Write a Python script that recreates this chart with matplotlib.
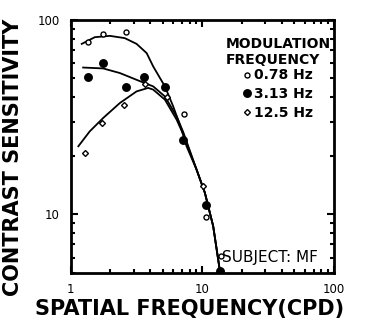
import numpy as np
import matplotlib
matplotlib.use("Agg")
from matplotlib import pyplot as plt

plt.rcParams['font.family'] = ['DejaVu Sans']

# --- measured points (spatial freq in cpd, contrast sensitivity) ---
f_078 = [1.34, 1.76, 2.61, 7.27, 10.6, 13.8]
s_078 = [77, 85, 87, 33, 9.7, 6.1]

f_313 = [1.34, 1.76, 2.61, 3.59, 5.19, 7.15, 10.6, 13.6]
s_313 = [51, 60, 45, 51, 45, 24.2, 11.2, 5.1]

f_125 = [1.29, 1.71, 2.52, 3.65, 5.34, 10.1]
s_125 = [20.6, 29.5, 36.6, 47, 40.2, 14.0]

# --- fitted curves ---
cf_078 = [1.21, 1.52, 1.98, 2.57, 3.16, 3.77, 4.23, 5.19, 6.0, 6.95, 7.58, 9.03, 10.45, 12.08, 13.6]
cs_078 = [75.3, 81.5, 82.8, 80.6, 75.3, 67.5, 57.6, 45.5, 35.9, 27.3, 22.4, 17.0, 12.9, 8.7, 5.1]

cf_313 = [1.24, 1.76, 2.36, 3.16, 4.23, 5.19, 6.37, 7.15, 9.03, 10.45, 12.08, 13.6]
cs_313 = [56.9, 56.3, 53.3, 49.2, 45.5, 40.4, 31.9, 26.5, 17.0, 12.9, 8.7, 5.1]

cf_125 = [1.14, 1.39, 1.76, 2.36, 3.16, 3.87, 4.23, 5.19, 6.37, 7.15, 9.03, 10.45, 12.08, 13.6]
cs_125 = [22.4, 26.7, 31.3, 37.4, 42.9, 44.7, 43.8, 38.9, 30.7, 25.8, 17.0, 12.9, 8.7, 5.1]

fig = plt.figure(figsize=(3.71, 3.32), dpi=100)
ax = fig.add_axes([0.191, 0.178, 0.709, 0.762])

ax.plot(cf_078, cs_078, color='black', lw=1.3)
ax.plot(cf_313, cs_313, color='black', lw=1.3)
ax.plot(cf_125, cs_125, color='black', lw=1.3)

ax.plot(f_078, s_078, 'o', ms=3.6, mfc='white', mec='black', mew=1.0, label='0.78 Hz')
ax.plot(f_313, s_313, 'o', ms=5.4, mfc='black', mec='black', label='3.13 Hz')
ax.plot(f_125, s_125, 'D', ms=3.0, mfc='white', mec='black', mew=1.0, label='12.5 Hz')

ax.set_xscale('log')
ax.set_yscale('log')
ax.set_xlim(1, 100)
ax.set_ylim(5, 100)

ax.set_xticks([1, 10, 100])
ax.set_xticklabels(['1', '10', '100'])
ax.set_yticks([10, 100])
ax.set_yticklabels(['10', '100'])
ax.yaxis.set_minor_formatter(matplotlib.ticker.NullFormatter())
ax.xaxis.set_minor_formatter(matplotlib.ticker.NullFormatter())

ax.tick_params(which='both', direction='in', top=True, right=True, width=1.5)
ax.tick_params(which='major', length=5, labelsize=8.5)
ax.tick_params(axis='x', which='major', pad=7)
ax.tick_params(axis='y', which='major', pad=8)
ax.tick_params(which='minor', length=3)
for sp in ax.spines.values():
    sp.set_linewidth(2)

leg = ax.legend(loc='upper right', bbox_to_anchor=(1.01, 0.955), frameon=False,
                title='MODULATION\nFREQUENCY', handlelength=0.5, handletextpad=0.25,
                labelspacing=0.35, borderaxespad=0.2, borderpad=0.2,
                prop={'weight': 'bold', 'size': 10},
                title_fontproperties={'weight': 'bold', 'size': 10})
leg._legend_box.align = 'center'
leg._legend_box.sep = 1

ax.text(14.0, 6.0, 'SUBJECT: MF', fontsize=11, va='center', ha='left')

fig.text(0.035, 0.526, 'CONTRAST SENSITIVITY', rotation=90, ha='center', va='center',
         fontsize=15, fontweight='bold')
fig.text(0.512, 0.068, 'SPATIAL FREQUENCY(CPD)', ha='center', va='center',
         fontsize=15, fontweight='bold')

fig.savefig('out.png', dpi=100)
